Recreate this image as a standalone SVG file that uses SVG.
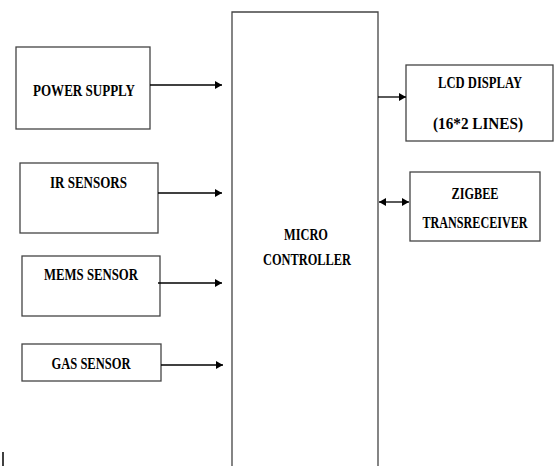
<svg xmlns="http://www.w3.org/2000/svg" width="554" height="466" viewBox="0 0 554 466">
<defs>
<marker id="ah" markerWidth="8" markerHeight="8" refX="7" refY="4" orient="auto" markerUnits="userSpaceOnUse">
<path d="M0,0 L7,4 L0,8 Z" fill="#000"/>
</marker>
<marker id="as" markerWidth="8" markerHeight="8" refX="0" refY="4" orient="auto" markerUnits="userSpaceOnUse">
<path d="M7,0 L0,4 L7,8 Z" fill="#000"/>
</marker>
<style>
.box{fill:#fff;stroke:#444;stroke-width:1.3}
.t{font-family:"Liberation Serif",serif;font-weight:bold;font-size:17px;fill:#000;text-anchor:middle}
.c{stroke:#000;stroke-width:1.3;fill:none}
</style>
</defs>
<rect width="554" height="466" fill="#fff"/>
<g id="mcu">
<path class="box" d="M232,467 L232,12 L378,12 L378,467"/>
<text class="t" x="306" y="240" textLength="44" lengthAdjust="spacingAndGlyphs">MICRO</text>
<text class="t" x="307" y="265" textLength="88" lengthAdjust="spacingAndGlyphs">CONTROLLER</text>
</g>
<g id="power">
<rect class="box" x="16" y="47" width="134" height="82"/>
<text class="t" x="84" y="96" textLength="102" lengthAdjust="spacingAndGlyphs">POWER SUPPLY</text>
</g>
<g id="ir">
<rect class="box" x="20" y="163" width="138" height="70"/>
<text class="t" x="88.5" y="188" textLength="77" lengthAdjust="spacingAndGlyphs">IR SENSORS</text>
</g>
<g id="mems">
<rect class="box" x="22" y="256" width="138" height="60"/>
<text class="t" x="91" y="280" textLength="94" lengthAdjust="spacingAndGlyphs">MEMS SENSOR</text>
</g>
<g id="gas">
<rect class="box" x="22" y="344" width="139" height="37"/>
<text class="t" x="91" y="369" textLength="79" lengthAdjust="spacingAndGlyphs">GAS SENSOR</text>
</g>
<g id="lcd">
<rect class="box" x="406" y="65" width="147" height="76"/>
<text class="t" x="480" y="88" textLength="84" lengthAdjust="spacingAndGlyphs">LCD DISPLAY</text>
<text class="t" x="478" y="129" textLength="90" lengthAdjust="spacingAndGlyphs">(16*2 LINES)</text>
</g>
<g id="zigbee">
<rect class="box" x="410" y="172" width="130" height="69"/>
<text class="t" x="475" y="199" textLength="47" lengthAdjust="spacingAndGlyphs">ZIGBEE</text>
<text class="t" transform="translate(475,228) scale(0.75,1)" x="0" y="0" textLength="140" lengthAdjust="spacingAndGlyphs">TRANSRECEIVER</text>
</g>
<g id="connectors">
<line class="c" x1="150" y1="85" x2="222" y2="85" marker-end="url(#ah)"/>
<line class="c" x1="158" y1="193" x2="222" y2="193" marker-end="url(#ah)"/>
<line class="c" x1="158" y1="283" x2="222" y2="283" marker-end="url(#ah)"/>
<line class="c" x1="161" y1="365" x2="223" y2="365" marker-end="url(#ah)"/>
<line class="c" x1="378" y1="97" x2="406" y2="97" marker-end="url(#ah)"/>
<line class="c" x1="379" y1="202" x2="409" y2="202" marker-start="url(#as)" marker-end="url(#ah)"/>
</g>
<line x1="3" y1="452" x2="3" y2="466" stroke="#000" stroke-width="1.5"/>
</svg>
